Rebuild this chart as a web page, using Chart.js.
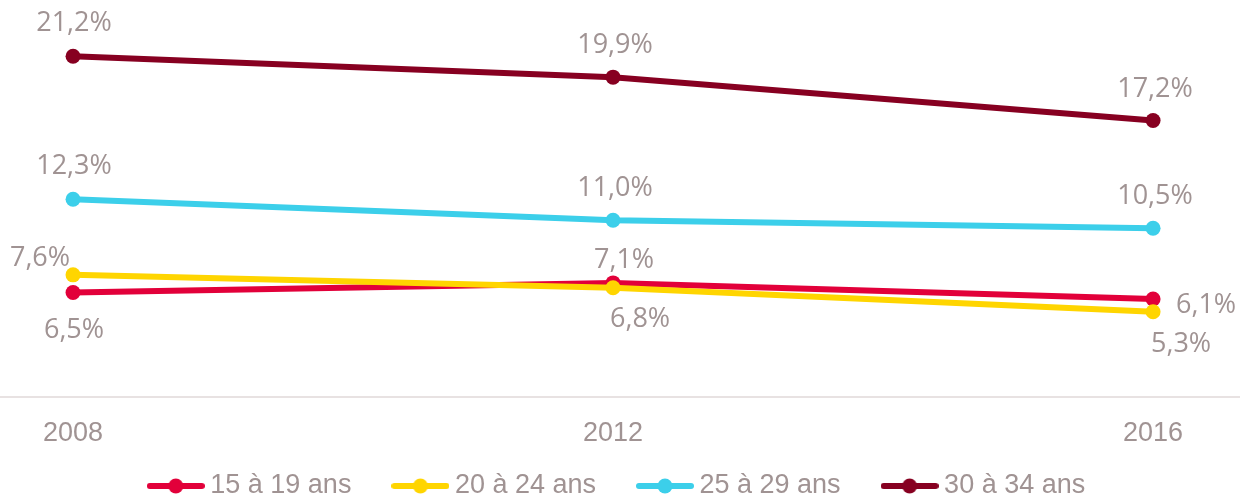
<!DOCTYPE html>
<html>
<head>
<meta charset="utf-8">
<script src="https://cdn.jsdelivr.net/npm/chart.js@4"></script>
<style>
  html, body { margin: 0; padding: 0; background: #fff; }
  #wrap { width: 1240px; height: 498px; }
</style>
</head>
<body>
<div id="wrap"><canvas id="chart"></canvas></div>
<script>
// ── data ──────────────────────────────────────────────
const years = [2008, 2012, 2016];
const seriesNames = ['15 à 19 ans', '20 à 24 ans', '25 à 29 ans', '30 à 34 ans'];
const s15_19 = [6.5, 7.1, 6.1];
const s20_24 = [7.6, 6.8, 5.3];
const s25_29 = [12.3, 11.0, 10.5];
const s30_34 = [21.2, 19.9, 17.2];

// ── style ─────────────────────────────────────────────
const COLORS = ['#e2003a', '#ffd500', '#3ccfea', '#870021'];
const TEXT = '#a09393';
// label offsets (dx, dy to text baseline) per series, per point
const LABEL_OFFSETS = [
  [[1, 45], [11, -15], [53, 14]],
  [[-33, -9], [27, 39], [28, 40]],
  [[1, -25], [2, -24], [2, -24]],
  [[1, -25], [2, -24], [2, -24]],
];

const fmt = v => v.toFixed(1).replace('.', ',') + '%';

function legendIcon(color) {
  const c = document.createElement('canvas');
  c.width = 58; c.height = 16;
  const g = c.getContext('2d');
  g.strokeStyle = color; g.lineWidth = 6; g.lineCap = 'round';
  g.beginPath(); g.moveTo(3, 8); g.lineTo(55, 8); g.stroke();
  g.fillStyle = color;
  g.beginPath(); g.arc(29, 8, 7.5, 0, Math.PI * 2); g.fill();
  return c;
}
const icons = COLORS.map(legendIcon);

const valueLabels = {
  id: 'valueLabels',
  afterDatasetsDraw(chart) {
    const ctx = chart.ctx;
    ctx.save();
    ctx.font = '27px "Open Sans", sans-serif';
    ctx.fillStyle = TEXT;
    ctx.textAlign = 'center';
    ctx.textBaseline = 'alphabetic';
    chart.data.datasets.forEach((ds, i) => {
      chart.getDatasetMeta(i).data.forEach((pt, j) => {
        const [dx, dy] = LABEL_OFFSETS[i][j];
        ctx.fillText(fmt(ds.data[j].y), pt.x + dx, pt.y + dy);
      });
    });
    ctx.restore();
  }
};

// legend keeps wide horizontal spacing but a short box, sitting lower
const legendFix = {
  id: 'legendFix',
  beforeLayout(chart) {
    const lg = chart.legend;
    if (!lg || lg._patched) return;
    const fit = lg.fit.bind(lg);
    lg.fit = function () { fit(); this.height = 49; };
    lg._patched = true;
  },
  afterLayout(chart) {
    const lg = chart.legend;
    lg.top = 424.5;
    lg.bottom = chart.height;
    lg.height = lg.bottom - lg.top;
  }
};

const allSeries = [s15_19, s20_24, s25_29, s30_34];

new Chart(document.getElementById('chart'), {
  type: 'line',
  data: {
    datasets: allSeries.map((vals, i) => ({
      label: seriesNames[i],
      data: vals.map((v, j) => ({ x: years[j], y: v })),
      borderColor: COLORS[i],
      backgroundColor: COLORS[i],
      pointBackgroundColor: COLORS[i],
      pointBorderWidth: 0,
      pointRadius: 7.5,
      borderWidth: 6,
      tension: 0,
      order: i === 1 ? 0 : 1,
    }))
  },
  options: {
    responsive: true,
    maintainAspectRatio: false,
    animation: false,
    layout: { autoPadding: false, padding: 0 },
    plugins: {
      tooltip: { enabled: false },
      legend: {
        position: 'bottom',
        labels: {
          usePointStyle: true,
          pointStyleWidth: 42,
          padding: 48,
          color: TEXT,
          font: { family: '"Liberation Sans", Arial, sans-serif', size: 27 },
          sort: (a, b) => a.datasetIndex - b.datasetIndex,
          generateLabels: chart => Chart.defaults.plugins.legend.labels.generateLabels(chart)
            .map(it => ({ ...it, pointStyle: icons[it.datasetIndex] })),
        }
      }
    },
    scales: {
      x: {
        type: 'linear',
        min: 2007.459,
        max: 2016.644,
        afterBuildTicks: s => { s.ticks = years.map(v => ({ value: v })); },
        afterFit: s => { s.height = 52; },
        grid: { display: false, drawTicks: false },
        border: { display: true, color: '#e8e2e2', width: 2 },
        ticks: {
          padding: 20,
          color: TEXT,
          font: { family: '"Liberation Sans", Arial, sans-serif', size: 27 },
          callback: v => String(v),
        }
      },
      y: {
        display: false,
        min: 0,
        max: 24.7,
      }
    }
  },
  plugins: [valueLabels, legendFix]
});
</script>
</body>
</html>
